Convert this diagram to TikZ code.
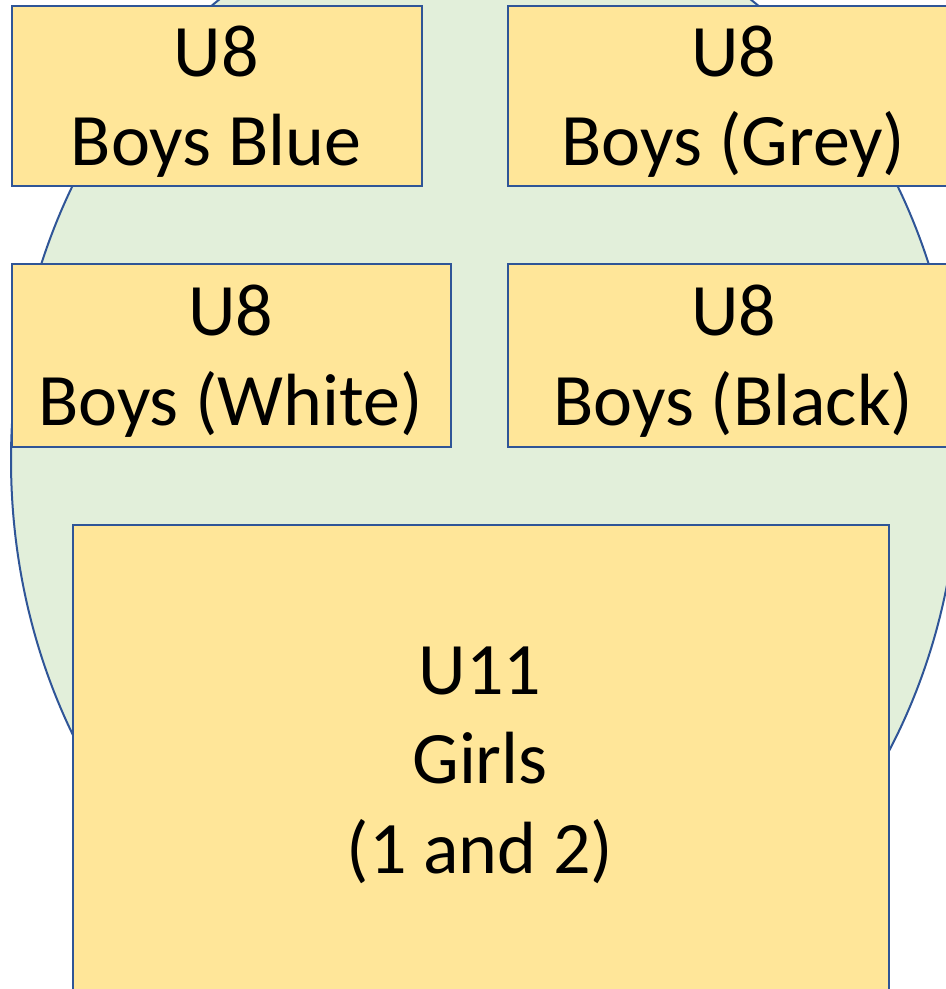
\documentclass[tikz,border=0pt]{standalone}
\usepackage{fontspec}
\setmainfont{Carlito}
\definecolor{edgeblue}{HTML}{2F5597}
\definecolor{ellfill}{HTML}{E2EFDA}
\definecolor{boxfill}{HTML}{FFE699}
\begin{document}
\begin{tikzpicture}[x=1pt,y=-1pt,
  teambox/.style={draw=edgeblue,line width=2pt,fill=boxfill,anchor=north west,inner sep=0pt},
  lbl/.style={anchor=base,font=\fontsize{74}{89}\selectfont,inner sep=0pt,text=black}]
\useasboundingbox (0,0) rectangle (946,989);
\clip (0,0) rectangle (946,989);
\draw[draw=edgeblue,line width=2pt,fill=ellfill] (485,460) ellipse [x radius=474, y radius=556];
% boxes
\node[teambox,minimum width=410pt,minimum height=180pt] (b1) at (11,5) {};
\node[teambox,minimum width=453pt,minimum height=180pt] (b2) at (507,5) {};
\node[teambox,minimum width=439pt,minimum height=183pt] (b3) at (11,263) {};
\node[teambox,minimum width=453pt,minimum height=183pt] (b4) at (507,263) {};
\node[teambox,minimum width=816pt,minimum height=520pt] (b5) at (72,524) {};
% labels
\node[lbl] (t1a) at (216,76) {U8};
\node[lbl] (t1b) at (216,165) {Boys Blue};
\node[lbl] (t2a) at (733.5,76) {U8};
\node[lbl] (t2b) at (733.5,165) {Boys (Grey)};
\node[lbl] (t3a) at (230.5,335) {U8};
\node[lbl] (t3b) at (230.5,425) {Boys (White)};
\node[lbl] (t4a) at (733.5,335) {U8};
\node[lbl] (t4b) at (733.5,425) {Boys (Black)};
\node[lbl] (t5a) at (480,694) {U11};
\node[lbl] (t5b) at (480,783) {Girls};
\node[lbl] (t5c) at (480,873) {(1 and 2)};
\end{tikzpicture}
\end{document}
